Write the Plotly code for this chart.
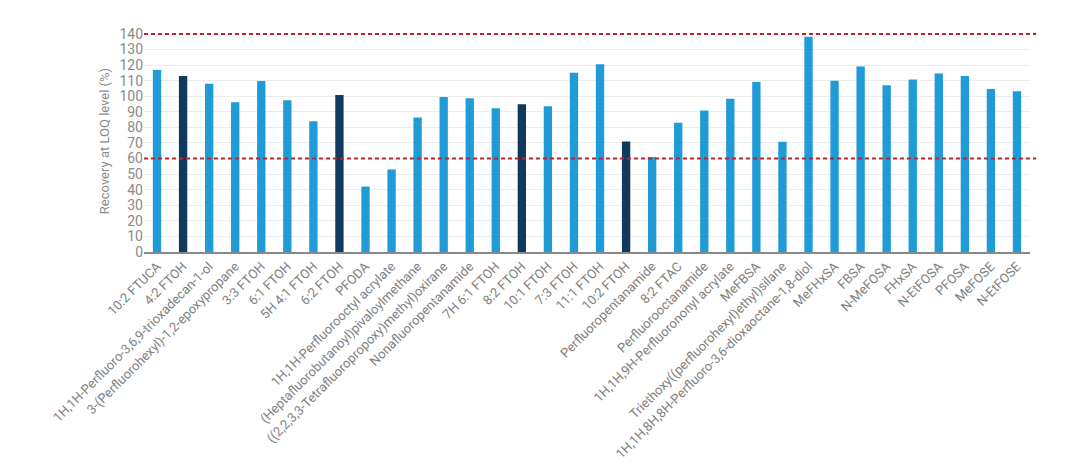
import plotly.graph_objects as go

categories = [
    "10:2 FTUCA", "4:2 FTOH", "1H,1H-Perfluoro-3,6,9-trioxadecan-1-ol",
    "3-(Perfluorohexyl)-1,2-epoxypropane", "3:3 FTOH", "6:1 FTOH", "5H 4:1 FTOH",
    "6:2 FTOH", "PFODA", "1H,1H-Perfluorooctyl acrylate",
    "(Heptafluorobutanoyl)pivaloylmethane",
    "((2,2,3,3-Tetrafluoropropoxy)methyl)oxirane", "Nonafluoropentanamide",
    "7H 6:1 FTOH", "8:2 FTOH", "10:1 FTOH", "7:3 FTOH", "11:1 FTOH", "10:2 FTOH",
    "Perfluoropentanamide", "8:2 FTAC", "Perfluorooctanamide",
    "1H,1H,9H-Perfluorononyl acrylate", "MeFBSA",
    "Triethoxy((perfluorohexyl)ethyl)silane",
    "1H,1H,8H,8H-Perfluoro-3,6-dioxaoctane-1,8-diol", "MeFHxSA", "FBSA",
    "N-MeFOSA", "FHxSA", "N-EtFOSA", "PFOSA", "MeFOSE", "N-EtFOSE",
]
recovery = [
    116.8, 113.0, 108.0, 96.2, 109.8, 97.4, 84.0, 100.8, 42.0, 53.0,
    86.3, 99.5, 98.7, 92.3, 94.8, 93.5, 115.0, 120.5, 71.0, 61.0,
    83.0, 90.8, 98.3, 109.2, 70.8, 138.2, 110.0, 119.0, 107.0, 110.8,
    114.5, 113.0, 104.7, 103.2,
]
highlighted = ["4:2 FTOH", "6:2 FTOH", "8:2 FTOH", "10:2 FTOH"]
limits = [60, 140]
y_ticks = list(range(0, 141, 10))

LIGHT = "#1f9cd8"
DARK = "#0f3a5e"
colors = [DARK if c in highlighted else LIGHT for c in categories]

fig = go.Figure()
fig.add_trace(go.Bar(
    x=categories, y=recovery, marker=dict(color=colors, line=dict(width=0)),
    width=0.32, showlegend=False,
))
for v in limits:
    fig.add_shape(type="line", xref="paper", yref="y", x0=0, x1=1.007, y0=v, y1=v,
                  line=dict(color="#b8262c", width=2, dash="4px,3px"), layer="above")

fig.update_layout(
    width=1080, height=464,
    margin=dict(l=144, r=50, t=30, b=212),
    paper_bgcolor="white", plot_bgcolor="white",
    font=dict(family="Roboto, Arial, sans-serif", color="#808080"),
    bargap=0.68,
)
fig.update_xaxes(
    tickangle=-45, tickfont=dict(size=13, color="#808080"),
    showline=True, linecolor="#888888", linewidth=1.5, showgrid=False,
    ticks="", automargin=False,
)
fig.update_yaxes(
    range=[0, 142.5], tickvals=y_ticks, tickfont=dict(size=14, color="#8a8a8a"),
    showgrid=True, gridcolor="#ececec", gridwidth=1, zeroline=False,
    title=dict(text="Recovery at LOQ level (%)", font=dict(size=13, color="#8a8a8a"), standoff=6),
    automargin=False,
)
fig.write_html("out.html")
